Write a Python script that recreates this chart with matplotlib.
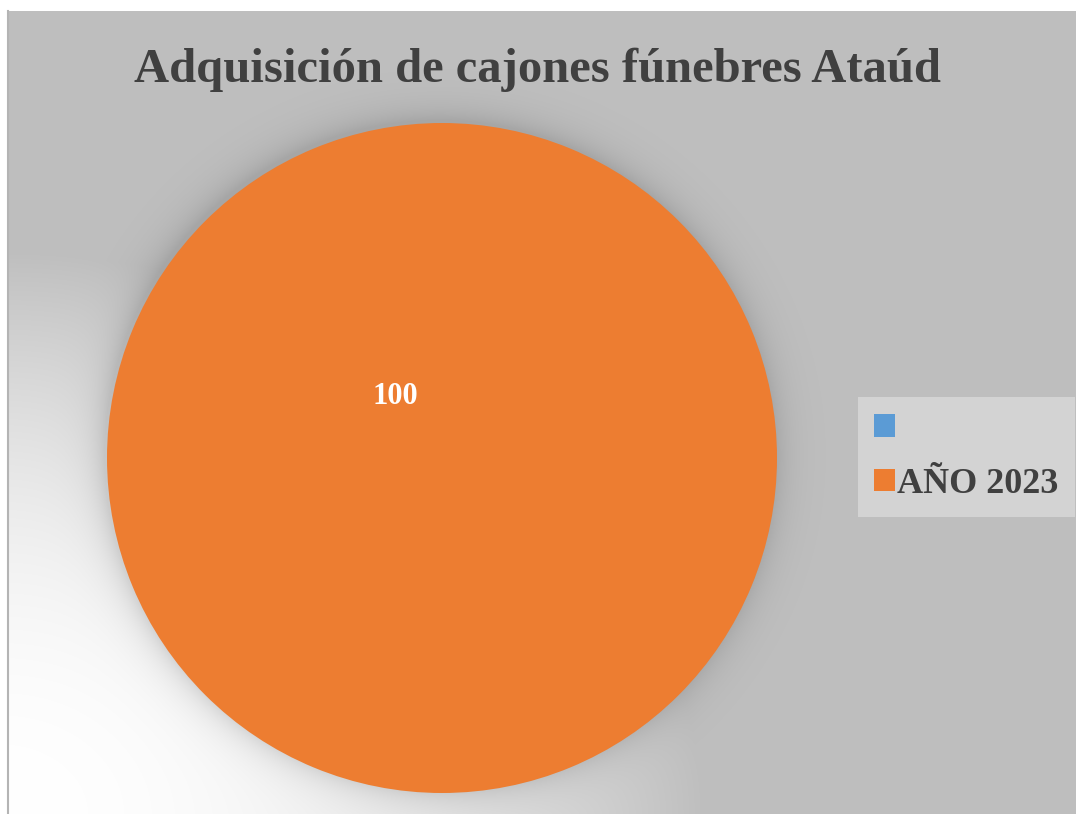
import numpy as np
import matplotlib.pyplot as plt

TITLE = "Adquisición de cajones fúnebres Ataúd"
LABELS = ["", "AÑO 2023"]
VALUES = [0, 100]
COLORS = ["#5b9bd5", "#ed7d31"]

W, H = 1076, 814
SERIF = ["Liberation Serif", "DejaVu Serif"]


def background():
    # gray panel with a soft white glow from the lower left and a shadow ring round the pie
    yy, xx = np.mgrid[0:H, 0:W].astype(float)
    r = np.sqrt((xx / 700.0) ** 2 + ((H - yy) / 560.0) ** 2)
    glow = np.clip(1 - r ** 2, 0, 1)
    img = 191 + (255 - 191) * glow

    d = np.sqrt((xx - 439) ** 2 + (yy - 455) ** 2) - 335
    shade = np.where(d > 0, 0.13 * np.exp(-d / 16.0), 0.13)
    img = img * (1 - shade)

    img[:11, :] = 255
    img[:, :8] = 255
    rgb = np.repeat((img / 255.0)[:, :, None], 3, axis=2)
    return rgb


def main():
    fig = plt.figure(figsize=(W / 100, H / 100), dpi=100)

    bg = fig.add_axes([0, 0, 1, 1])
    bg.imshow(background(), extent=(0, W, H, 0), interpolation="bilinear")
    bg.plot([8, 8], [11, H], color="#b4b4b4", lw=1.5)
    bg.set_xlim(0, W)
    bg.set_ylim(H, 0)
    bg.axis("off")

    # pie box in pixels: x 107..777, y 123..793
    ax = fig.add_axes([107 / W, 1 - 793 / H, 670 / W, 670 / H])
    wedges, _ = ax.pie(VALUES, colors=COLORS, startangle=90, counterclock=False,
                       wedgeprops=dict(linewidth=0))
    ax.set_xlim(-1, 1)
    ax.set_ylim(-1, 1)
    ax.set_aspect("auto")
    ax.axis("off")

    ax.text(-0.14, 0.185, f"{VALUES[1]}", ha="center", va="center",
            color="white", fontsize=22, fontweight="bold", family=SERIF)

    fig.text(537 / W, 1 - 82 / H, TITLE, ha="center", va="baseline",
             fontsize=35, fontweight="bold", color="#404040", family=SERIF)

    leg = fig.legend(wedges, LABELS, loc="upper left",
                     bbox_to_anchor=(858 / W, 1 - 397 / H),
                     prop=dict(family=SERIF, weight="bold", size=26),
                     handlelength=0.58, handleheight=0.58, handletextpad=0.05,
                     labelspacing=0.6, borderpad=0.45, borderaxespad=0,
                     fancybox=False, framealpha=1)
    leg.get_frame().set_facecolor("#d3d3d3")
    leg.get_frame().set_edgecolor("none")
    for t in leg.get_texts():
        t.set_color("#404040")

    fig.savefig("out.png", dpi=100)


if __name__ == "__main__":
    main()
